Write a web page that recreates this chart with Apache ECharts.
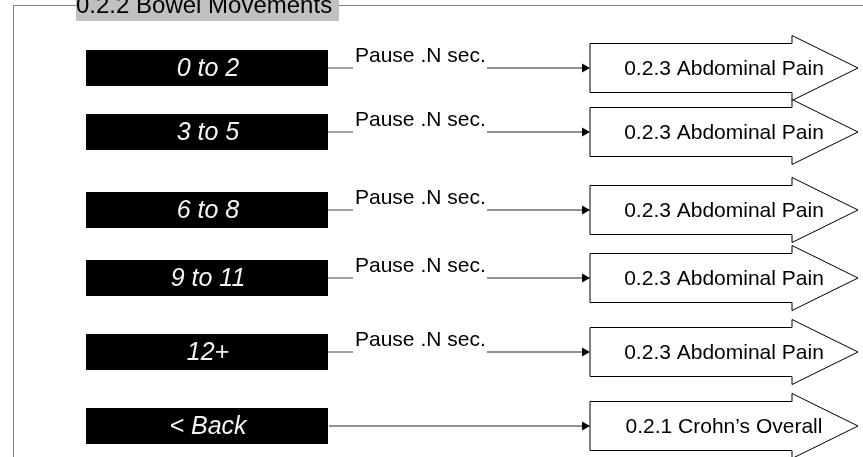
<!DOCTYPE html>
<html>
<head>
<meta charset="utf-8">
<script src="https://cdn.jsdelivr.net/npm/echarts@6/dist/echarts.min.js"></script>
<style>
  html, body { margin: 0; padding: 0; background: #fff; }
  #main { width: 863px; height: 457px; }
</style>
</head>
<body>
<div id="main"></div>
<script>
// screen title and the rows of the menu
let screenTitle = '0.2.2 Bowel Movements';
let choiceLabels = ['0 to 2', '3 to 5', '6 to 8', '9 to 11', '12+', '< Back'];
let pauseLabels = ['Pause .N sec.', 'Pause .N sec.', 'Pause .N sec.', 'Pause .N sec.', 'Pause .N sec.', ''];
let targetLabels = ['0.2.3 Abdominal Pain', '0.2.3 Abdominal Pain', '0.2.3 Abdominal Pain',
    '0.2.3 Abdominal Pain', '0.2.3 Abdominal Pain', '0.2.1 Crohn\u2019s Overall'];
// vertical position of each row (same units as the hidden y axis)
let rowY = [68, 132, 210, 278, 352, 426];

let font = 'Arial, "Liberation Sans", sans-serif';
let myChart = echarts.init(document.getElementById('main'));

function renderRow(params, api) {
    let i = params.dataIndex;
    let y = api.value(1);
    let p = function (x, dy) { return api.coord([x, y + dy]); };
    let children = [];
    // black button
    let b0 = p(86, -18), b1 = p(328, 18);
    children.push({
        type: 'rect',
        shape: {x: b0[0], y: b0[1], width: b1[0] - b0[0], height: b1[1] - b0[1]},
        style: {fill: '#000'}
    });
    let bc = p(208, 0);
    children.push({
        type: 'text',
        style: {
            text: choiceLabels[i], x: bc[0], y: bc[1] + 1, fill: '#f4f4f4',
            fontSize: 25, fontStyle: 'italic', fontFamily: font,
            align: 'center', verticalAlign: 'middle'
        }
    });
    // connector
    let l0 = p(328, 0);
    let arrowStart = 487;
    if (pauseLabels[i]) {
        let l1 = p(353, 0);
        children.push({
            type: 'line',
            shape: {x1: l0[0], y1: l0[1], x2: l1[0], y2: l1[1]},
            style: {stroke: '#444', lineWidth: 1}
        });
        let t = p(355, -12);
        children.push({
            type: 'text',
            style: {
                text: pauseLabels[i], x: t[0], y: t[1], fill: '#000',
                fontSize: 21, fontFamily: font, align: 'left', verticalAlign: 'middle'
            }
        });
    } else {
        arrowStart = 329;
    }
    let a0 = p(arrowStart, 0), a1 = p(582, 0), a2 = p(590, 0);
    children.push({
        type: 'line',
        shape: {x1: a0[0], y1: a0[1], x2: a1[0], y2: a1[1]},
        style: {stroke: '#222', lineWidth: 1}
    });
    children.push({
        type: 'polygon',
        shape: {points: [[a1[0], a1[1] - 4.5], [a2[0], a2[1]], [a1[0], a1[1] + 4.5]]},
        style: {fill: '#000'}
    });
    // block arrow with the target screen
    let pts = [[590, -24.5], [792, -24.5], [792, -32.5], [858, 0], [792, 32.5], [792, 24.5], [590, 24.5]]
        .map(function (q) { return p(q[0], q[1]); });
    children.push({
        type: 'polygon',
        shape: {points: pts},
        style: {fill: '#fff', stroke: '#000', lineWidth: 1}
    });
    let tc = p(724, 0);
    children.push({
        type: 'text',
        style: {
            text: targetLabels[i], x: tc[0], y: tc[1] + 1, fill: '#000',
            fontSize: 21, fontFamily: font, align: 'center', verticalAlign: 'middle'
        }
    });
    return {type: 'group', children: children};
}

let option = {
    animation: false,
    grid: {left: 0, right: 0, top: 0, bottom: 0},
    xAxis: {type: 'value', min: 0, max: 863, show: false},
    yAxis: {type: 'value', min: 0, max: 457, inverse: true, show: false},
    graphic: [
        {
            type: 'polyline',
            shape: {points: [[76, 5.5], [13.5, 5.5], [13.5, 457]]},
            style: {stroke: '#808080', lineWidth: 1, fill: null}
        },
        {
            type: 'line',
            shape: {x1: 339, y1: 5.5, x2: 863, y2: 5.5},
            style: {stroke: '#808080', lineWidth: 1}
        },
        {
            type: 'rect',
            shape: {x: 76, y: 0, width: 263, height: 21},
            style: {fill: '#c0c0c0'}
        },
        {
            type: 'text',
            style: {
                text: screenTitle, x: 76, y: 6, fill: '#000',
                fontSize: 24, fontFamily: font, align: 'left', verticalAlign: 'middle'
            }
        }
    ],
    series: [{
        type: 'custom',
        coordinateSystem: 'cartesian2d',
        renderItem: renderRow,
        encode: {x: 0, y: 1},
        data: rowY.map(function (y) { return [0, y]; })
    }]
};
myChart.setOption(option);
</script>
</body>
</html>
